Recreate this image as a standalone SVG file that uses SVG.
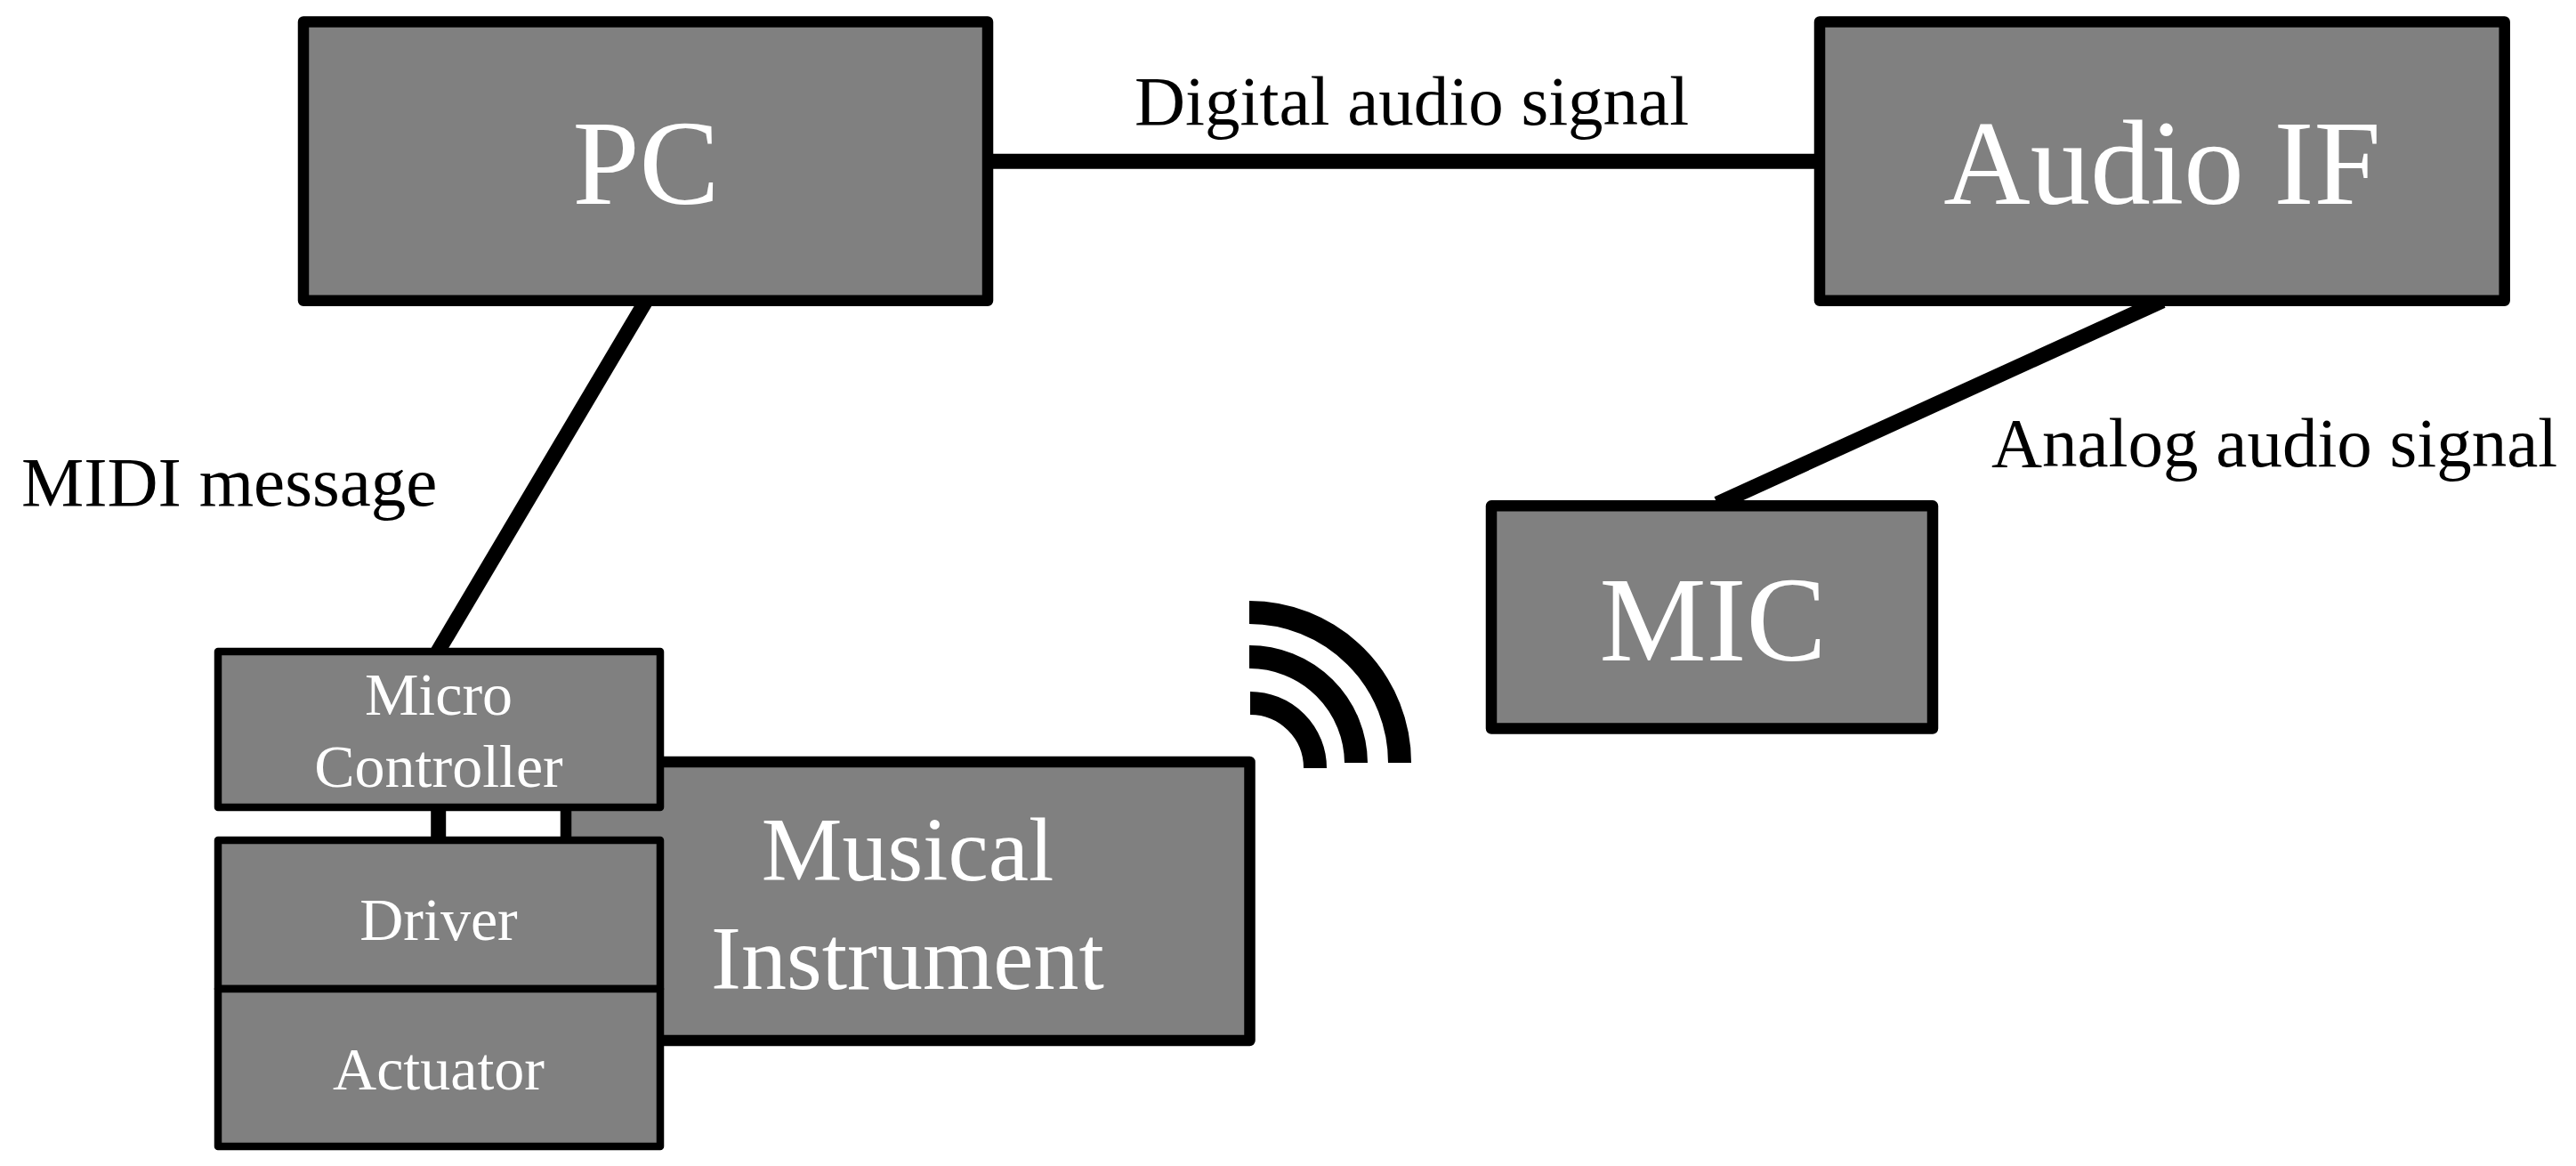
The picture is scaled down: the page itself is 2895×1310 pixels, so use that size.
<svg xmlns="http://www.w3.org/2000/svg" width="2895" height="1310" viewBox="0 0 2895 1310">
<style>
.b{fill:#808080;stroke:#000;stroke-width:12.5;stroke-linejoin:round}
.n{fill:#808080;stroke:#000;stroke-width:8.5;stroke-linejoin:round}
.c{fill:none;stroke:#000;stroke-width:17}
.a{fill:none;stroke:#000;stroke-width:26}
.w{fill:#fff;font-family:"Liberation Serif",serif;text-anchor:middle}
.k{fill:#000;font-family:"Liberation Serif",serif;font-size:79px}
.s{font-size:68px}
.m{font-size:102px}
.l{font-size:135px}
</style>
<rect width="2895" height="1310" fill="#fff"/>
<g id="connectors">
<path class="c" d="M1113 181.300H2045"/>
<path class="c" d="M726 338L492 732"/>
<path class="c" d="M2430 338L1930 566"/>
<path class="c" d="M492.700 905V945"/>
</g>
<g id="pc"><rect class="b" x="341" y="24.400" width="769" height="313.400"/><text class="w l" x="726" y="229">PC</text></g>
<g id="audio-if"><rect class="b" x="2045" y="24.400" width="769.700" height="313.400"/><text class="w l" x="2430" y="229">Audio IF</text></g>
<g id="mic"><rect class="b" x="1676" y="568.300" width="496" height="250.200"/><text class="w l" x="1925" y="742">MIC</text></g>
<g id="musical-instrument"><rect class="b" x="636" y="856" width="768.500" height="313"/><text class="w m" x="1020" y="989">Musical</text><text class="w m" x="1020" y="1111">Instrument</text></g>
<g id="micro-controller"><rect class="n" x="245" y="732" width="497" height="175"/><text class="w s" x="493" y="803">Micro</text><text class="w s" x="493" y="884">Controller</text></g>
<g id="driver"><rect class="n" x="245" y="944" width="497" height="167"/><text class="w s" x="493" y="1056">Driver</text></g>
<g id="actuator"><rect class="n" x="245" y="1111" width="497" height="177"/><text class="w s" x="493" y="1224">Actuator</text></g>
<g id="signal-waves">
<path class="a" d="M1405 790A73 73 0 0 1 1478 863"/>
<path class="a" d="M1404 738A120 120 0 0 1 1524 857"/>
<path class="a" d="M1404 688A169 169 0 0 1 1573 857"/>
</g>
<g id="labels">
<text class="k" x="1275" y="140">Digital audio signal</text>
<text class="k" x="24" y="568">MIDI message</text>
<text class="k" x="2238" y="524">Analog audio signal</text>
</g>
</svg>
